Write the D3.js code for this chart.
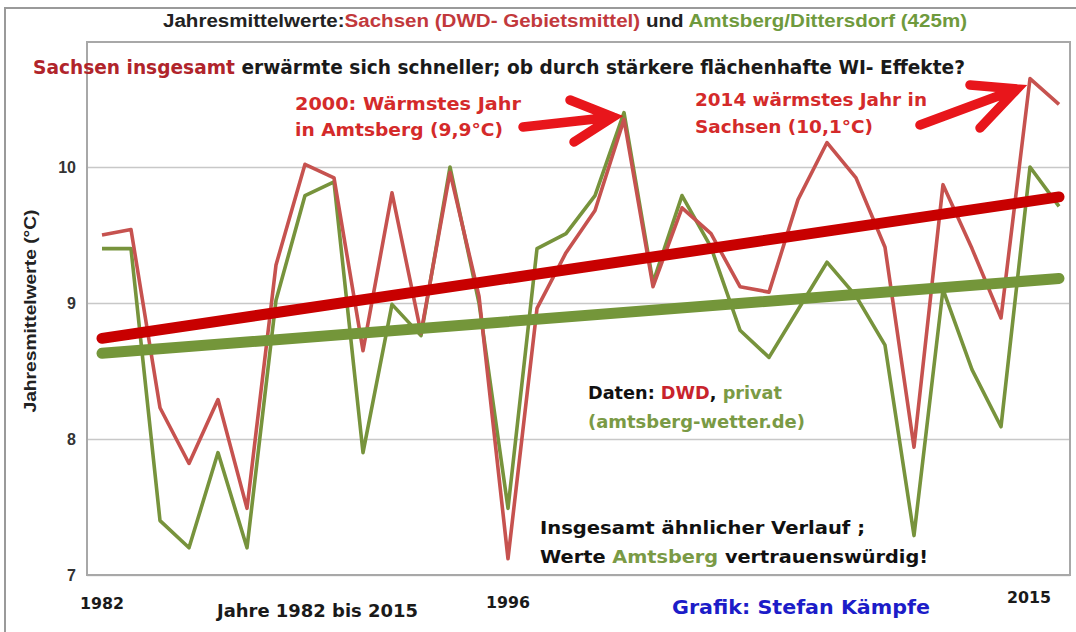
<!DOCTYPE html>
<html lang="de">
<head>
<meta charset="UTF-8">
<title>Jahresmittelwerte Sachsen und Amtsberg</title>
<script src="https://d3js.org/d3.v7.min.js"></script>
<style>
    body { margin: 0; background: #fff; }
    svg { display: block; font-family: "Liberation Sans", Arial, sans-serif; }
    .grid line { stroke: #c8c8c8; stroke-width: 1.3; }
    .grid text { font-size: 16px; font-weight: bold; fill: #333; }
    .heavy { font-family: "DejaVu Sans", "Liberation Sans", sans-serif; }
</style>
</head>
<body>
<svg id="chart" width="1076" height="632"></svg>
<script>
    // data
    const years = [1982, 1983, 1984, 1985, 1986, 1987, 1988, 1989, 1990, 1991, 1992, 1993, 1994, 1995, 1996, 1997, 1998,
        1999, 2000, 2001, 2002, 2003, 2004, 2005, 2006, 2007, 2008, 2009, 2010, 2011, 2012, 2013, 2014, 2015];
    const sachsen = [9.50, 9.54, 8.23, 7.82, 8.29, 7.49, 9.28, 10.02, 9.92, 8.65, 9.81, 8.78, 9.96, 9.05, 7.12, 8.96, 9.37,
        9.68, 10.35, 9.12, 9.70, 9.51, 9.12, 9.08, 9.76, 10.18, 9.92, 9.41, 7.94, 9.87, 9.40, 8.89, 10.65, 10.46];
    const amtsberg = [9.40, 9.40, 7.40, 7.20, 7.90, 7.20, 9.02, 9.79, 9.89, 7.90, 8.99, 8.76, 10.00, 9.00, 7.49, 9.40, 9.51,
        9.79, 10.40, 9.15, 9.79, 9.41, 8.80, 8.60, 8.95, 9.30, 9.05, 8.69, 7.29, 9.10, 8.51, 8.09, 10.00, 9.71];
    const trendYears = [1982, 2015];
    const trendSachsen = [8.74, 9.78];
    const trendAmtsberg = [8.63, 9.18];
    const yTicks = [7, 8, 9, 10];
    const xLabels = [1982, 1996, 2015];

    const red = '#c6524f', green = '#77933c';
    const box = {left: 87, top: 42, right: 1070, bottom: 575};

    let svg = d3.select('#chart');
    let x = d3.scaleLinear().domain([1982, 2015]).range([102, 1059]);
    let y = d3.scaleLinear().domain([7, 10]).range([575, 167]);

    // outer frame (top + left edge)
    svg.append('path')
        .attr('d', 'M5,632 V8 H1076')
        .attr('fill', 'none')
        .attr('stroke', '#9a9a9a')
        .attr('stroke-width', 2);

    // gridlines and y tick labels
    let yAxis = d3.axisLeft(y)
        .tickValues(yTicks)
        .tickSize(-(box.right - box.left))
        .tickPadding(11)
        .tickFormat(d3.format('d'));
    svg.append('g')
        .attr('class', 'grid')
        .attr('transform', `translate(${box.left},0)`)
        .call(yAxis)
        .call(g => g.select('.domain').remove());

    svg.append('rect')
        .attr('x', box.left).attr('y', box.top)
        .attr('width', box.right - box.left).attr('height', box.bottom - box.top)
        .attr('fill', 'none')
        .attr('stroke', '#a8a8a8')
        .attr('stroke-width', 2);

    // data lines
    let line = d3.line()
        .x((d, i) => x(years[i]))
        .y(d => y(d));

    svg.append('path').datum(amtsberg)
        .attr('d', line).attr('fill', 'none')
        .attr('stroke', green).attr('stroke-width', 3.6).attr('stroke-linejoin', 'round');
    svg.append('path').datum(sachsen)
        .attr('d', line).attr('fill', 'none')
        .attr('stroke', red).attr('stroke-width', 3.6).attr('stroke-linejoin', 'round');

    // trend lines
    let trendLine = d3.line()
        .x((d, i) => x(trendYears[i]))
        .y(d => y(d));
    svg.append('path').datum(trendSachsen)
        .attr('d', trendLine)
        .attr('stroke', '#c80000').attr('stroke-width', 11).attr('stroke-linecap', 'round');
    svg.append('path').datum(trendAmtsberg)
        .attr('d', trendLine)
        .attr('stroke', '#74963a').attr('stroke-width', 11).attr('stroke-linecap', 'round');

    // texts
    function addText(tx, ty, size, parts, len, anchor, cls) {
        let t = svg.append('text')
            .attr('x', tx).attr('y', ty)
            .attr('font-size', size)
            .attr('font-weight', 'bold')
            .attr('text-anchor', anchor || 'start');
        if (cls) t.attr('class', cls);
        if (len) t.attr('textLength', len).attr('lengthAdjust', 'spacingAndGlyphs');
        parts.forEach(p => t.append('tspan').attr('fill', p[1]).text(p[0]));
        return t;
    }

    addText(163, 27, 18, [['Jahresmittelwerte:', '#222'], ['Sachsen (DWD- Gebietsmittel)', '#c2393c'],
        [' und ', '#222'], ['Amtsberg/Dittersdorf (425m)', '#6f9a3d']], 804);
    addText(33, 74, 19, [['Sachsen insgesamt', '#b0242b'],
        [' erwärmte sich schneller; ob durch stärkere flächenhafte WI- Effekte?', '#1a1a1a']], 932, null, 'heavy');

    addText(295, 110, 18, [['2000: Wärmstes Jahr', '#d42a2a']], 226, null, 'heavy');
    addText(295, 136, 18, [['in Amtsberg (9,9°C)', '#d42a2a']], 208, null, 'heavy');
    addText(695, 106, 18, [['2014 wärmstes Jahr in', '#d42a2a']], 232, null, 'heavy');
    addText(695, 133, 18, [['Sachsen (10,1°C)', '#d42a2a']], 178, null, 'heavy');

    addText(588, 399, 17, [['Daten: ', '#111'], ['DWD', '#c8232c'], [', ', '#111'], ['privat', '#7a9a45']], 194, null, 'heavy');
    addText(588, 428, 17, [['(amtsberg-wetter.de)', '#7a9a45']], 217, null, 'heavy');

    addText(540, 534, 18, [['Insgesamt ähnlicher Verlauf ;', '#111']], 325, null, 'heavy');
    addText(540, 563, 18, [['Werte ', '#111'], ['Amtsberg', '#7a9a45'], [' vertrauenswürdig!', '#111']], 388, null, 'heavy');

    addText(217, 617, 17, [['Jahre 1982 bis 2015', '#1a1a1a']], 201, null, 'heavy');
    addText(672, 614, 19, [['Grafik: Stefan Kämpfe', '#1c1cc8']], 258, null, 'heavy');

    // x labels (only first, middle, last)
    xLabels.forEach((yr, i) => {
        let last = i === xLabels.length - 1;
        addText(last ? x(yr) - 8 : x(yr), [609, 608, 603][i], 16, [[String(yr), '#1a1a1a']], 44,
            last ? 'end' : 'middle', 'heavy');
    });

    // y title
    addText(0, 0, 16, [['Jahresmittelwerte (°C)', '#222']], 203, 'middle')
        .attr('transform', 'translate(36,311) rotate(-90)');

    // red arrows
    let arrows = [
        {tail: [523, 127], tip: [613, 117], up: [570, 100], low: [574, 142]},
        {tail: [920, 125], tip: [1017, 89], up: [970, 85], low: [980, 128]}
    ];
    svg.selectAll('.arrow')
        .data(arrows)
        .enter().append('path')
        .attr('class', 'arrow')
        .attr('d', a => `M${a.tail}L${a.tip}M${a.up}L${a.tip}L${a.low}`)
        .attr('fill', 'none')
        .attr('stroke', '#e8161b')
        .attr('stroke-width', 9.5)
        .attr('stroke-linecap', 'round')
        .attr('stroke-linejoin', 'miter');
</script>
</body>
</html>
